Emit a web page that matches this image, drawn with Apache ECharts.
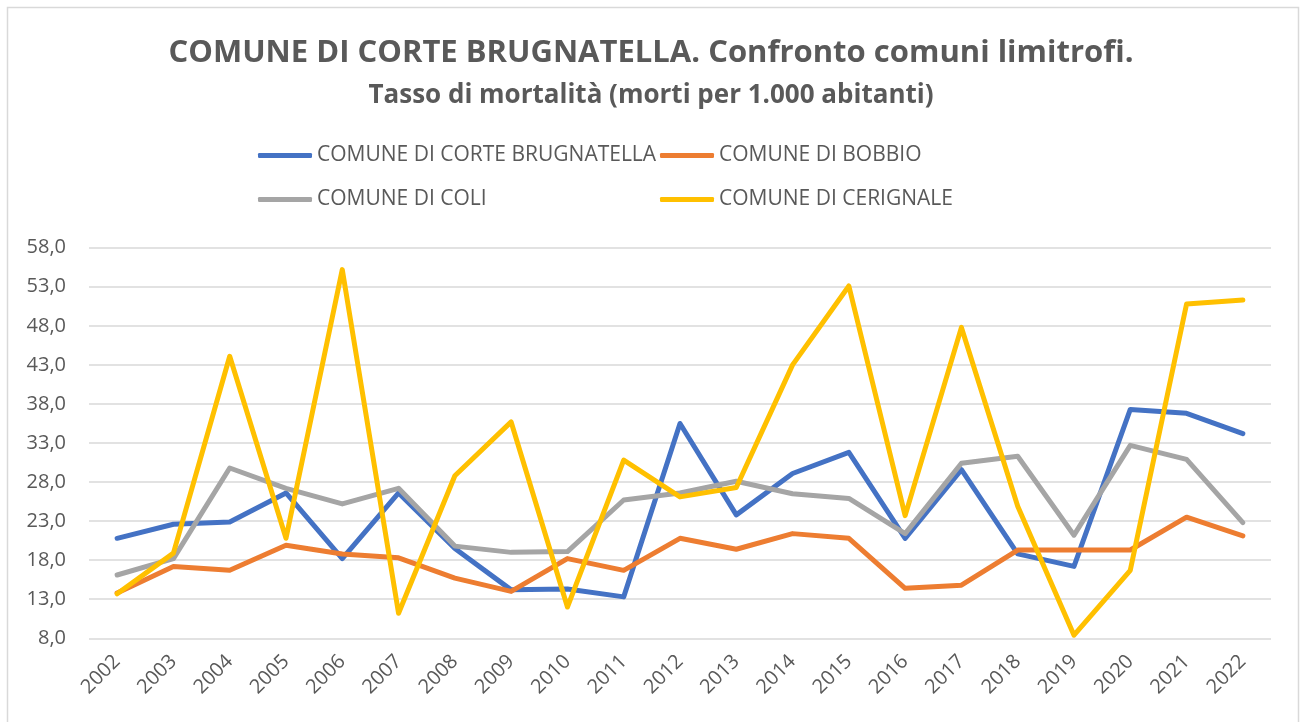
<!DOCTYPE html>
<html>
<head>
<meta charset="utf-8">
<script src="https://cdn.jsdelivr.net/npm/echarts@6/dist/echarts.min.js"></script>
<style>
  html, body { margin: 0; padding: 0; background: #fff; }
  #chart { width: 1302px; height: 722px; }
</style>
</head>
<body>
<div id="chart"></div>
<script>
// Tasso di mortalità (morti per 1.000 abitanti), 2002-2022
const years = ['2002','2003','2004','2005','2006','2007','2008','2009','2010','2011',
               '2012','2013','2014','2015','2016','2017','2018','2019','2020','2021','2022'];

const corteBrugnatella = [20.8, 22.6, 22.9, 26.6, 18.2, 26.6, 19.5, 14.2, 14.3, 13.3,
                          35.5, 23.8, 29.1, 31.8, 20.8, 29.6, 18.8, 17.2, 37.3, 36.8, 34.2];
const bobbio           = [13.8, 17.2, 16.7, 19.9, 18.8, 18.3, 15.7, 14.0, 18.2, 16.7,
                          20.8, 19.4, 21.4, 20.8, 14.4, 14.8, 19.3, 19.3, 19.3, 23.5, 21.1];
const coli             = [16.1, 18.2, 29.8, 27.2, 25.2, 27.2, 19.8, 19.0, 19.1, 25.7,
                          26.6, 28.1, 26.5, 25.9, 21.4, 30.4, 31.3, 21.2, 32.7, 30.9, 22.8];
const cerignale        = [13.7, 18.9, 44.1, 20.8, 55.2, 11.2, 28.8, 35.7, 12.0, 30.8,
                          26.1, 27.3, 43.0, 53.1, 23.7, 47.8, 24.9, 8.4, 16.7, 50.8, 51.3];

const seriesNames = ['COMUNE DI CORTE BRUGNATELLA', 'COMUNE DI BOBBIO', 'COMUNE DI COLI', 'COMUNE DI CERIGNALE'];
const seriesData = [corteBrugnatella, bobbio, coli, cerignale];
const colors = ['#4472C4', '#ED7D31', '#A5A5A5', '#FFC000'];

// y axis: 8,0 … 58,0 every 5
const yMin = 8, yMax = 58, yStep = 5;

const titleText = 'COMUNE DI CORTE BRUGNATELLA. Confronto comuni limitrofi.';
const subtitleText = 'Tasso di mortalità (morti per 1.000 abitanti)';

const FONT = '"Open Sans", Lato, sans-serif';
const TEXT_COLOR = '#595959';

const chart = echarts.init(document.getElementById('chart'), null, { renderer: 'canvas' });

// legend placement: two rows, two columns
const legendPos = [
  { left: 258, top: 145 },
  { left: 660, top: 145 },
  { left: 258, top: 189 },
  { left: 660, top: 189 }
];

const option = {
  backgroundColor: '#ffffff',
  animation: false,
  color: colors,
  graphic: [{
    type: 'rect',
    shape: { x: 7.5, y: 7.5, width: 1291, height: 730 },
    style: { fill: 'none', stroke: '#D9D9D9', lineWidth: 1.5 },
    silent: true,
    z: -1
  }],
  title: [
    {
      text: titleText,
      left: 'center',
      top: 33,
      textStyle: { fontFamily: FONT, fontWeight: 'bold', fontSize: 31, color: TEXT_COLOR }
    },
    {
      text: subtitleText,
      left: 'center',
      top: 78,
      textStyle: { fontFamily: FONT, fontWeight: 'bold', fontSize: 26, color: TEXT_COLOR }
    }
  ],
  legend: seriesNames.map((name, i) => ({
    data: [name],
    left: legendPos[i].left,
    top: legendPos[i].top,
    padding: 0,
    icon: 'roundRect',
    itemWidth: 54,
    itemHeight: 5,
    itemGap: 0,
    textStyle: { fontFamily: FONT, fontSize: 21, color: TEXT_COLOR }
  })),
  grid: { left: 89, right: 31, top: 247.7, bottom: 83.7, containLabel: false },
  xAxis: {
    type: 'category',
    data: years,
    boundaryGap: true,
    axisLine: { show: false },
    axisTick: { show: false },
    axisLabel: {
      rotate: 45,
      interval: 0,
      margin: 20,
      fontFamily: FONT,
      fontSize: 20,
      color: TEXT_COLOR
    }
  },
  yAxis: {
    type: 'value',
    min: yMin,
    max: yMax,
    interval: yStep,
    axisLine: { show: false },
    axisTick: { show: false },
    splitLine: { lineStyle: { color: '#D9D9D9', width: 1.5 } },
    axisLabel: {
      margin: 23,
      fontFamily: FONT,
      fontSize: 20,
      color: TEXT_COLOR,
      formatter: v => v.toFixed(1).replace('.', ',')
    }
  },
  series: seriesData.map((d, i) => ({
    name: seriesNames[i],
    type: 'line',
    data: d,
    showSymbol: false,
    symbol: 'none',
    lineStyle: { width: 5, color: colors[i], cap: 'round', join: 'round' },
    itemStyle: { color: colors[i] }
  }))
};

chart.setOption(option);
</script>
</body>
</html>
